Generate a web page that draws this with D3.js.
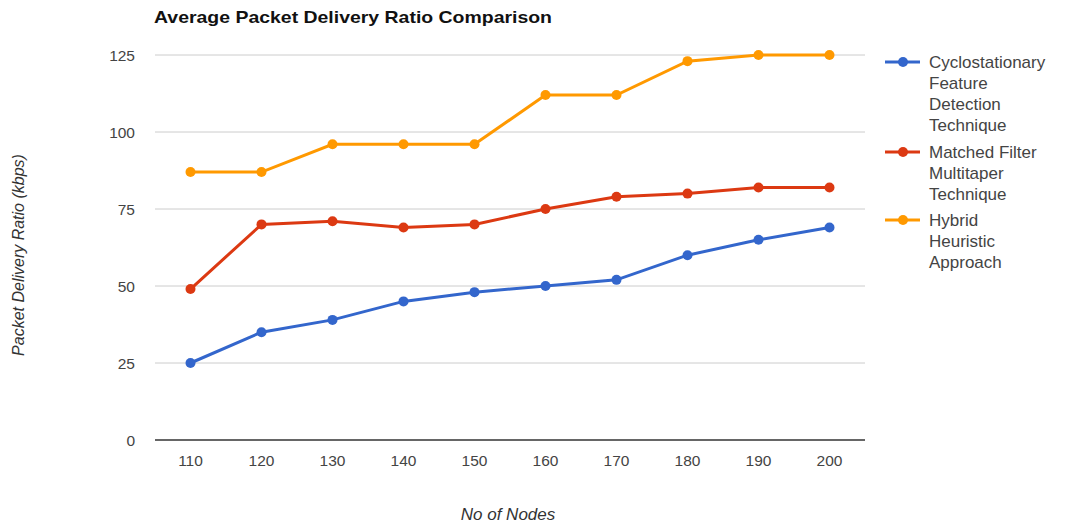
<!DOCTYPE html>
<html><head><meta charset="utf-8">
<script src="https://cdn.jsdelivr.net/npm/d3@7/dist/d3.min.js"></script>
<style>body{margin:0;background:#fff;}svg{display:block;font-family:Arial,"Liberation Sans",sans-serif;}</style>
</head><body>
<svg id="c" width="1070" height="525"></svg>
<script>
const categories = ["110","120","130","140","150","160","170","180","190","200"];
const cyclo = [25,35,39,45,48,50,52,60,65,69];
const matched = [49,70,71,69,70,75,79,80,82,82];
const hybrid = [87,87,96,96,96,112,112,123,125,125];
const yTicks = [0,25,50,75,100,125];
const seriesNames = [["Cyclostationary","Feature","Detection","Technique"],["Matched Filter","Multitaper","Technique"],["Hybrid","Heuristic","Approach"]];
const colors = ["#3366cc","#dc3912","#ff9900"];
const series = [cyclo, matched, hybrid];

const svg = d3.select("#c");
const L=155, R=865, T=55, B=440;
const x = d3.scaleBand().domain(categories).range([L,R]);
const y = d3.scaleLinear().domain([0,125]).range([B,T]);

svg.append("text").attr("x",154).attr("y",23).attr("font-size",17).attr("font-weight","bold").attr("fill","#111")
  .attr("textLength",398).attr("lengthAdjust","spacingAndGlyphs").text("Average Packet Delivery Ratio Comparison");

const g = svg.append("g");
yTicks.forEach(t=>{
  if(t>0) g.append("line").attr("x1",L).attr("x2",R).attr("y1",y(t)).attr("y2",y(t)).attr("stroke","#cccccc").attr("stroke-width",1);
  g.append("text").attr("x",135).attr("y",y(t)+5.5).attr("text-anchor","end").attr("font-size",15.5).attr("fill","#444").text(t);
});
g.append("line").attr("x1",L).attr("x2",R).attr("y1",B).attr("y2",B).attr("stroke","#333").attr("stroke-width",1.5);
categories.forEach(c=>{
  g.append("text").attr("x",x(c)+x.bandwidth()/2).attr("y",466).attr("text-anchor","middle").attr("font-size",15.5).attr("fill","#444").text(c);
});
svg.append("text").attr("x",508).attr("y",520).attr("text-anchor","middle").attr("font-size",17).attr("font-style","italic").attr("fill","#333").text("No of Nodes");
svg.append("text").attr("transform","translate(24,255) rotate(-90)").attr("text-anchor","middle").attr("font-size",16).attr("font-style","italic").attr("fill","#333").text("Packet Delivery Ratio (kbps)");

const line = d3.line().x((d,i)=>x(categories[i])+x.bandwidth()/2).y(d=>y(d));
series.forEach((s,k)=>{
  svg.append("path").datum(s).attr("d",line).attr("fill","none").attr("stroke",colors[k]).attr("stroke-width",3);
  svg.selectAll(null).data(s).enter().append("circle").attr("cx",(d,i)=>x(categories[i])+x.bandwidth()/2).attr("cy",d=>y(d)).attr("r",5).attr("fill",colors[k]);
});

const legTops=[62,152,220];
seriesNames.forEach((names,k)=>{
  const ly=legTops[k];
  svg.append("line").attr("x1",885).attr("x2",920).attr("y1",ly).attr("y2",ly).attr("stroke",colors[k]).attr("stroke-width",3);
  svg.append("circle").attr("cx",903).attr("cy",ly).attr("r",5).attr("fill",colors[k]);
  names.forEach((n,j)=>{
    svg.append("text").attr("x",929).attr("y",ly+6+j*21).attr("font-size",17).attr("fill","#444").text(n);
  });
});
</script>
</body></html>
